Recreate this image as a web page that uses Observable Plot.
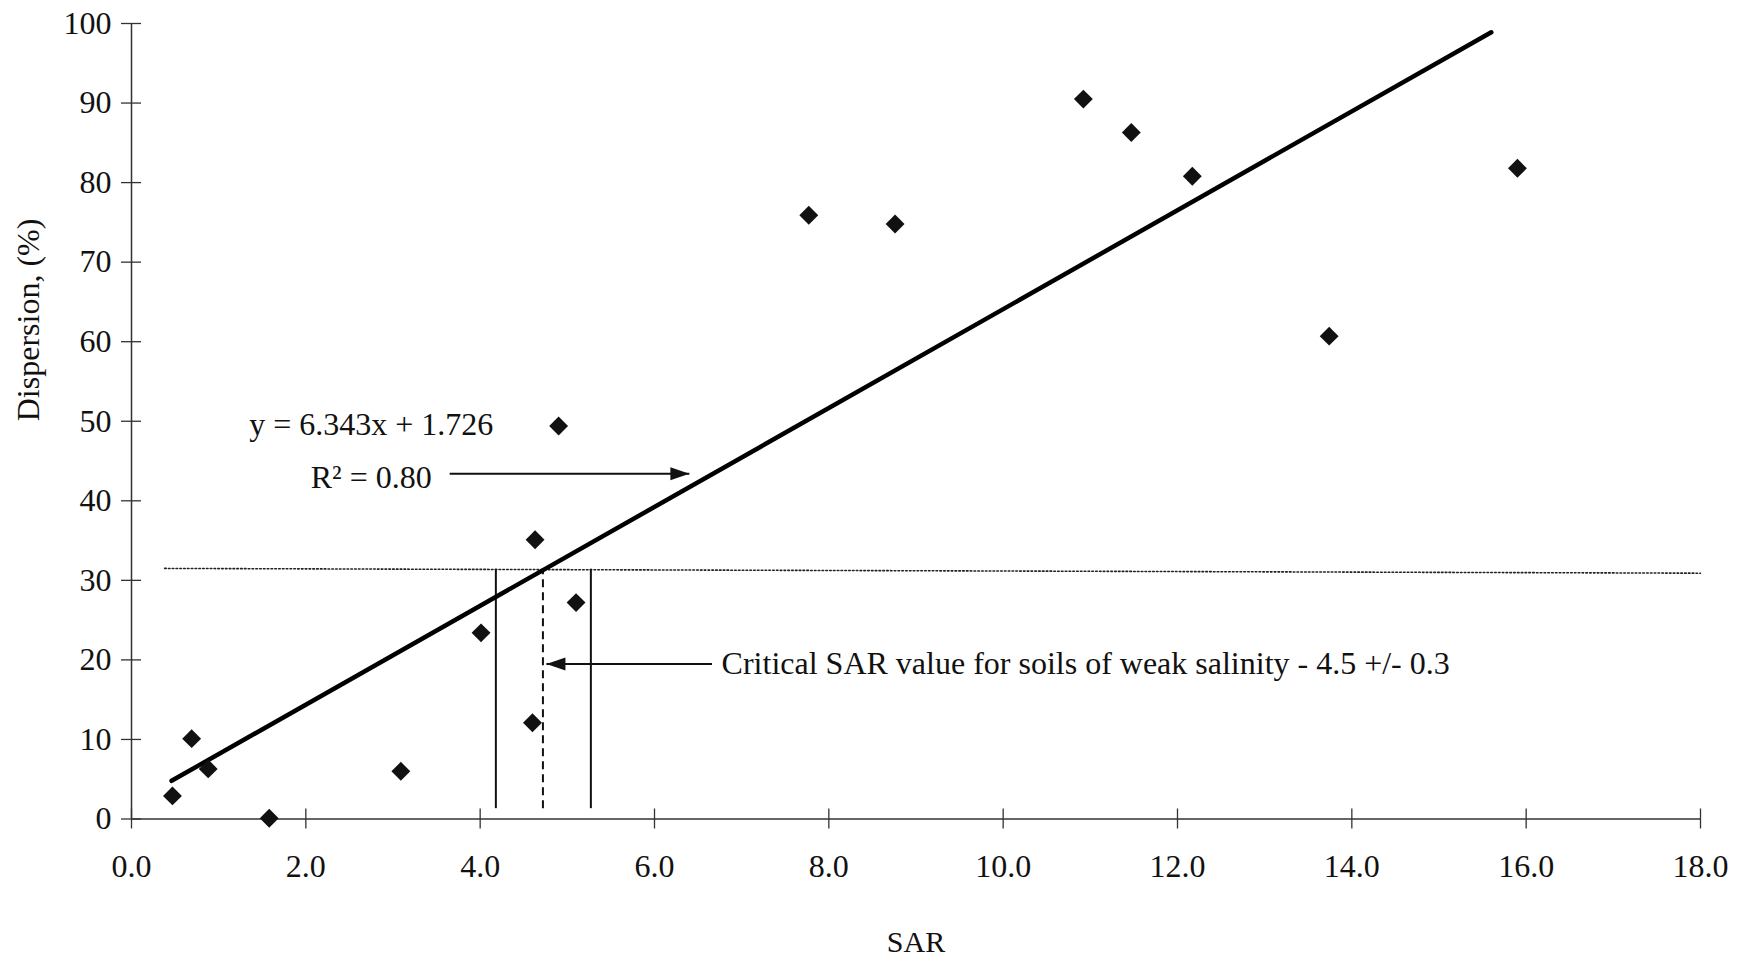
<!DOCTYPE html>
<html><head><meta charset="utf-8">
<script src="https://cdn.jsdelivr.net/npm/d3@7"></script>
<script src="https://cdn.jsdelivr.net/npm/@observablehq/plot@0.6"></script>
<style>
html,body{margin:0;padding:0;background:#fff;}
</style></head><body><div id="chart"></div>
<script>
// Observed data points
const sar        = [0.47, 0.69, 0.88, 1.58, 3.09, 4.01, 4.60, 4.63, 4.90, 5.10, 7.77, 8.76, 10.92, 11.47, 12.17, 13.74, 15.90];
const dispersion = [2.9, 10.1, 6.3, 0.1, 6.0, 23.4, 12.1, 35.1, 49.4, 27.2, 75.9, 74.8, 90.5, 86.3, 80.8, 60.7, 81.8];

// Axes
const xDomain = [0, 18];
const yDomain = [0, 100];
const xTicks = [0, 2, 4, 6, 8, 10, 12, 14, 16, 18];
const yTicks = [0, 10, 20, 30, 40, 50, 60, 70, 80, 90, 100];
const xTitle = "SAR";
const yTitle = "Dispersion, (%)";

// Trend line end points (as drawn)
const trendX = [0.46, 15.6];
const trendY = [4.8, 98.9];

// Threshold dotted line
const thresholdX = [0.38, 18];
const thresholdY = [31.5, 30.9];

// Critical SAR band
const bandX = [4.18, 5.27];
const criticalX = [4.72];
const bandY = [1.3, 31.4];

// Equation annotation
const eqText = ["y = 6.343x + 1.726", "R² = 0.80"];
const eqX = [2.75, 2.75];
const eqY = [49.5, 42.9];
const arrow1X = [3.65, 6.40];
const arrow1Y = [43.4, 43.4];

// Critical annotation
const critText = ["Critical SAR value for soils of weak salinity - 4.5 +/- 0.3"];
const critX = [6.77];
const critY = [19.5];
const arrow2X = [6.66, 4.76];
const arrow2Y = [19.5, 19.5];

const points = sar.map((x, i) => ({x, y: dispersion[i]}));
const trend = trendX.map((x, i) => ({x, y: trendY[i]}));
const threshold = thresholdX.map((x, i) => ({x, y: thresholdY[i]}));
const eqRows = eqText.map((t, i) => ({t, x: eqX[i], y: eqY[i]}));
const arrows = [
  {x1: arrow1X[0], x2: arrow1X[1], y1: arrow1Y[0], y2: arrow1Y[1], dir: "right"},
  {x1: arrow2X[0], x2: arrow2X[1], y1: arrow2Y[0], y2: arrow2Y[1], dir: "left"}
];

const headRight = {draw(ctx) { ctx.moveTo(0, 0); ctx.lineTo(-19, -6.5); ctx.lineTo(-19, 6.5); ctx.closePath(); }};
const headLeft  = {draw(ctx) { ctx.moveTo(0, 0); ctx.lineTo(19, -6.5); ctx.lineTo(19, 6.5); ctx.closePath(); }};

const chart = Plot.plot({
  width: 1751,
  height: 969,
  marginLeft: 131,
  marginRight: 51,
  marginTop: 23,
  marginBottom: 150.5,
  x: {domain: xDomain},
  y: {domain: yDomain},
  style: {fontFamily: "'Liberation Serif', 'Times New Roman', serif", fontSize: "32px", color: "#000", background: "#fff"},
  marks: [
    // axis lines
    Plot.ruleX([xDomain[0]], {stroke: "#333", strokeWidth: 1.5}),
    Plot.ruleY([yDomain[0]], {stroke: "#333", strokeWidth: 1.5}),
    // crossing ticks
    Plot.axisX({ticks: xTicks, tickSize: 20, dy: -10, text: null, label: null, stroke: "#333", strokeWidth: 1.3}),
    Plot.axisY({ticks: yTicks, tickSize: 20, dx: 10, text: null, label: null, stroke: "#333", strokeWidth: 1.3}),
    // tick labels
    Plot.axisX({ticks: xTicks, tickSize: 0, tickPadding: 35.5, tickFormat: d => d.toFixed(1), label: null, fill: "#111"}),
    Plot.axisY({ticks: yTicks, tickSize: 0, tickPadding: 20, label: null, fill: "#111"}),
    // axis titles
    Plot.text([yTitle], {frameAnchor: "left", dx: -103, rotate: -90, fill: "#111"}),
    Plot.text([xTitle], {frameAnchor: "bottom", dy: 132.5, fontSize: 30, fill: "#111"}),
    // threshold dotted line
    Plot.line(threshold, {x: "x", y: "y", stroke: "#222", strokeWidth: 1.6, strokeDasharray: "1.6,2.2"}),
    // critical band
    Plot.ruleX(bandX, {y1: bandY[0], y2: bandY[1], stroke: "#111", strokeWidth: 2}),
    Plot.ruleX(criticalX, {y1: bandY[0], y2: bandY[1], stroke: "#111", strokeWidth: 2, strokeDasharray: "8,5"}),
    // trend line
    Plot.line(trend, {x: "x", y: "y", stroke: "#000", strokeWidth: 4.5}),
    // points
    Plot.dot(points, {x: "x", y: "y", symbol: "diamond2", r: 8.5, fill: "#111", stroke: "none"}),
    // annotations
    Plot.text(eqRows, {x: "x", y: "y", text: "t", textAnchor: "middle", lineAnchor: "middle", fill: "#111"}),
    Plot.link(arrows, {x1: "x1", x2: "x2", y1: "y1", y2: "y2", stroke: "#111", strokeWidth: 2}),
    Plot.dot(arrows.filter(d => d.dir === "right"), {x: "x2", y: "y2", symbol: headRight, fill: "#111", stroke: "none"}),
    Plot.dot(arrows.filter(d => d.dir === "left"), {x: "x2", y: "y2", symbol: headLeft, fill: "#111", stroke: "none"}),
    Plot.text(critText, {x: critX, y: critY, text: d => d, textAnchor: "start", lineAnchor: "middle", fill: "#111"})
  ]
});
document.getElementById("chart").appendChild(chart);
</script>
</body></html>
